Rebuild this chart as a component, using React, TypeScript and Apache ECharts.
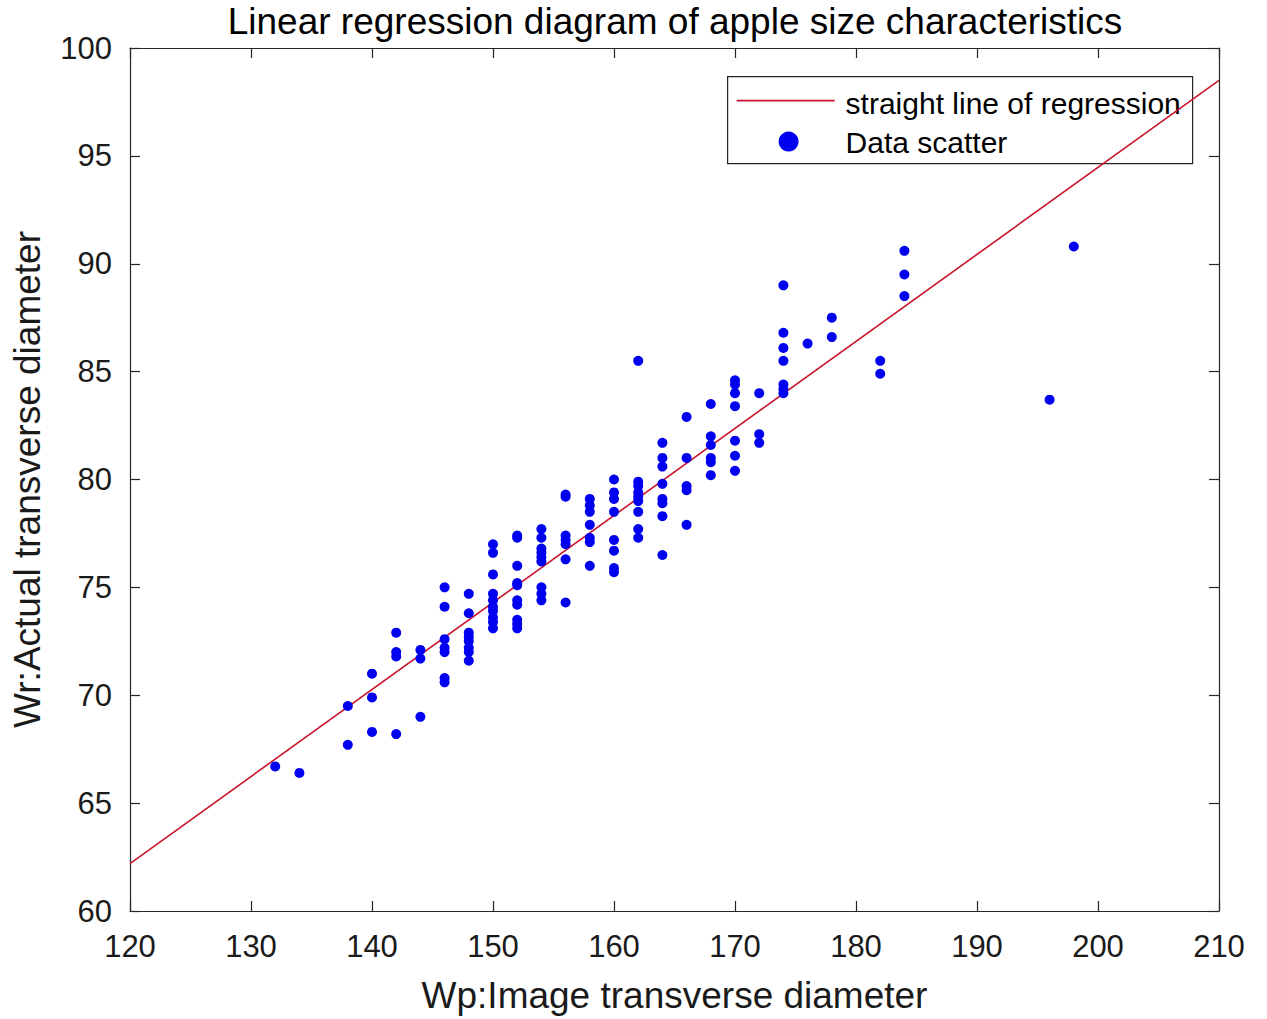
import React, { useEffect, useRef } from "react";
import * as echarts from "echarts";

const chartTitle = "Linear regression diagram of apple size characteristics";
const xAxisName = "Wp:Image transverse diameter";
const yAxisName = "Wr:Actual transverse diameter";
const legendLineLabel = "straight line of regression";
const legendScatterLabel = "Data scatter";

// image transverse diameter (x) of each column of points
const imageDiameters = [
  132, 134, 138, 140, 142, 144, 146, 148, 150, 152, 154, 156, 158, 160, 162,
  164, 166, 168, 170, 172, 174, 176, 178, 182, 184, 196, 198,
];
// actual transverse diameters (y) measured at each image diameter
const actualDiameters = [
  [66.7],
  [66.4],
  [69.5, 67.7],
  [71.0, 69.9, 68.3],
  [72.9, 72.0, 71.8, 68.2],
  [72.1, 71.7, 69.0],
  [75.0, 74.1, 72.6, 72.2, 72.0, 70.8, 70.6],
  [74.7, 73.8, 72.9, 72.7, 72.5, 72.2, 72.0, 71.6],
  [77.0, 76.6, 75.6, 74.7, 74.4, 74.1, 73.9, 73.6, 73.4, 73.1],
  [77.4, 77.3, 76.0, 75.2, 75.1, 74.4, 74.2, 73.5, 73.3, 73.1],
  [77.7, 77.3, 76.8, 76.6, 76.4, 76.2, 75.0, 74.7, 74.4],
  [79.3, 79.2, 77.4, 77.2, 77.0, 76.3, 74.3],
  [79.1, 78.8, 78.5, 77.9, 77.3, 77.1, 76.0],
  [80.0, 79.4, 79.1, 78.5, 77.2, 76.7, 75.9, 75.7],
  [85.5, 79.9, 79.7, 79.4, 79.2, 79.0, 78.5, 77.7, 77.3],
  [81.7, 81.0, 80.6, 79.8, 79.1, 78.9, 78.3, 76.5],
  [82.9, 81.0, 79.7, 79.5, 77.9],
  [83.5, 82.0, 81.6, 81.0, 80.8, 80.2],
  [84.6, 84.4, 84.0, 83.4, 81.8, 81.1, 80.4],
  [84.0, 82.1, 81.7],
  [89.0, 86.8, 86.1, 85.5, 84.4, 84.2, 84.0],
  [86.3],
  [87.5, 86.6],
  [85.5, 84.9],
  [90.6, 89.5, 88.5],
  [83.7],
  [90.8],
];

// regression line end points
const regressionX = [120, 210];
const regressionY = [62.2, 98.5];

const xTicks = { min: 120, max: 210, interval: 10 };
const yTicks = { min: 60, max: 100, interval: 5 };

const FONT = "'Liberation Sans', Arial, Helvetica, sans-serif";
const AXIS_COLOR = "#262626";
const DOT_COLOR = "#0000f0";
const LINE_COLOR = "#c8142c";

export default function App() {
  const ref = useRef<HTMLDivElement>(null);

  useEffect(() => {
    document.body.style.margin = "0";
    if (!ref.current) return;
    const chart = echarts.init(ref.current, undefined, { renderer: "svg" });

    const scatterData: number[][] = [];
    imageDiameters.forEach((x, i) => {
      actualDiameters[i].forEach((y) => scatterData.push([x, y]));
    });
    const lineData = regressionX.map((x, i) => [x, regressionY[i]]);

    const axisLine = { show: true, lineStyle: { color: AXIS_COLOR, width: 1.2 } };
    const axisTick = { show: true, inside: true, length: 10, lineStyle: { color: AXIS_COLOR, width: 1.2 } };

    chart.setOption({
      animation: false,
      backgroundColor: "#ffffff",
      textStyle: { fontFamily: FONT },
      title: {
        text: chartTitle,
        left: 675,
        textAlign: "center",
        top: 3,
        padding: 0,
        textStyle: { fontFamily: FONT, fontSize: 37, fontWeight: "normal", color: "#000" },
      },
      grid: { left: 130, right: 48, top: 48, bottom: 108, containLabel: false },
      xAxis: [
        {
          type: "value",
          position: "bottom",
          min: xTicks.min,
          max: xTicks.max,
          interval: xTicks.interval,
          axisLine,
          axisTick,
          splitLine: { show: false },
          axisLabel: { fontFamily: FONT, fontSize: 31, color: "#1a1a1a", margin: 20 },
          name: xAxisName,
          nameLocation: "middle",
          nameGap: 66,
          nameTextStyle: { fontFamily: FONT, fontSize: 37, color: "#1a1a1a" },
        },
        {
          type: "value",
          position: "top",
          min: xTicks.min,
          max: xTicks.max,
          interval: xTicks.interval,
          axisLine,
          axisTick,
          splitLine: { show: false },
          axisLabel: { show: false },
        },
      ],
      yAxis: [
        {
          type: "value",
          position: "left",
          min: yTicks.min,
          max: yTicks.max,
          interval: yTicks.interval,
          axisLine,
          axisTick,
          splitLine: { show: false },
          axisLabel: { fontFamily: FONT, fontSize: 31, color: "#1a1a1a", margin: 18 },
          name: yAxisName,
          nameLocation: "middle",
          nameGap: 84,
          nameTextStyle: { fontFamily: FONT, fontSize: 37, color: "#1a1a1a" },
        },
        {
          type: "value",
          position: "right",
          min: yTicks.min,
          max: yTicks.max,
          interval: yTicks.interval,
          axisLine,
          axisTick,
          splitLine: { show: false },
          axisLabel: { show: false },
        },
      ],
      series: [
        {
          name: legendLineLabel,
          type: "line",
          xAxisIndex: 0,
          yAxisIndex: 0,
          data: lineData,
          showSymbol: false,
          symbol: "none",
          lineStyle: { color: LINE_COLOR, width: 1.6 },
          z: 3,
        },
        {
          name: legendScatterLabel,
          type: "scatter",
          xAxisIndex: 0,
          yAxisIndex: 0,
          data: scatterData,
          symbol: "circle",
          symbolSize: 10,
          itemStyle: { color: DOT_COLOR, opacity: 1 },
          z: 4,
        },
      ],
      graphic: [
        {
          type: "group",
          left: 727,
          top: 76,
          z: 100,
          children: [
            {
              type: "rect",
              shape: { x: 0, y: 0, width: 465, height: 87 },
              style: { fill: "#ffffff", stroke: AXIS_COLOR, lineWidth: 1.2 },
            },
            {
              type: "line",
              shape: { x1: 9, y1: 24, x2: 107, y2: 24 },
              style: { stroke: LINE_COLOR, lineWidth: 1.6 },
            },
            {
              type: "text",
              x: 118,
              y: 27,
              style: {
                text: legendLineLabel,
                fontFamily: FONT,
                fontSize: 30,
                fill: "#000",
                verticalAlign: "middle",
                align: "left",
              },
            },
            {
              type: "circle",
              shape: { cx: 61, cy: 65, r: 10 },
              style: { fill: DOT_COLOR },
            },
            {
              type: "text",
              x: 118,
              y: 66,
              style: {
                text: legendScatterLabel,
                fontFamily: FONT,
                fontSize: 30,
                fill: "#000",
                verticalAlign: "middle",
                align: "left",
              },
            },
          ],
        },
      ],
    });

    return () => {
      chart.dispose();
    };
  }, []);

  return <div ref={ref} style={{ width: 1267, height: 1019 }} />;
}
